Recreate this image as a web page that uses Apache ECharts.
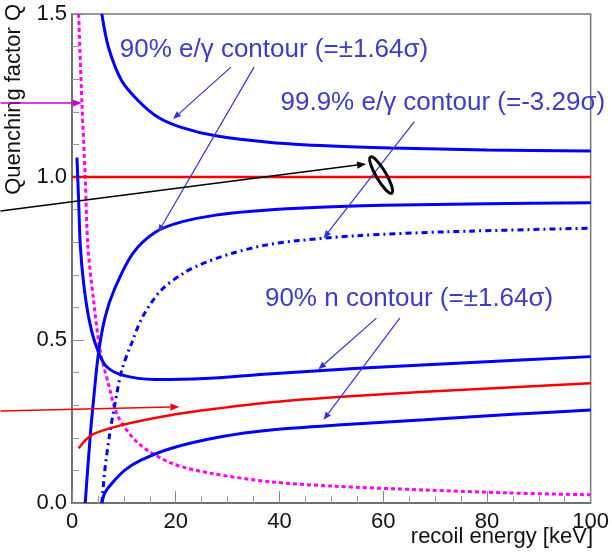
<!DOCTYPE html>
<html>
<head>
<meta charset="UTF-8">
<script src="https://cdn.jsdelivr.net/npm/echarts@6/dist/echarts.min.js"></script>
<style>
  html, body { margin: 0; padding: 0; background: #fff; }
  #main { width: 612px; height: 557px; }
</style>
</head>
<body>
<div id="main"></div>
<script>
// curves: [recoil energy (keV), Q]
var magentaDots = [[1.28, 1.5], [1.92, 1.224], [2.55, 1.0], [3.07, 0.784], [4.15, 0.623], [5.4, 0.469],
  [7.0, 0.367], [8.9, 0.265], [12.8, 0.183], [19.2, 0.122], [26.8, 0.091], [38.3, 0.065],
  [50, 0.052], [68, 0.04], [84, 0.031], [100, 0.025]];
var egUpper = [[5.75, 1.5], [7.03, 1.398], [9.58, 1.295], [12.78, 1.234], [16.6, 1.183], [21.07, 1.152],
  [27.45, 1.127], [38.3, 1.106], [50, 1.095], [61.5, 1.089], [80, 1.083], [100, 1.08]];
var egLower = [[2.55, 0], [3.5, 0.203], [4.15, 0.316], [5.1, 0.459], [6.4, 0.571], [8.24, 0.658],
  [11.74, 0.766], [16.2, 0.832], [21.3, 0.863], [27.7, 0.883], [34.1, 0.894], [43.7, 0.904],
  [60, 0.913], [80, 0.918], [100, 0.921]];
var eg999 = [[5.75, 0], [6.4, 0.111], [7.3, 0.214], [8.3, 0.306], [9.6, 0.408], [11.5, 0.49],
  [13.6, 0.571], [17.2, 0.653], [21.5, 0.705], [24.5, 0.73], [30.9, 0.766], [37.3, 0.791],
  [43.7, 0.805], [55, 0.82], [72.4, 0.832], [100, 0.843]];
var nUpper = [[0.96, 1.06], [1.28, 0.927], [1.6, 0.79], [2.24, 0.674], [3.2, 0.571], [4.47, 0.49],
  [6.4, 0.423], [9.58, 0.393], [16, 0.379], [25.5, 0.382], [37, 0.395], [55.2, 0.413],
  [78, 0.432], [100, 0.449]];
var nLower = [[5.75, 0], [6.3, 0.03], [7.66, 0.06], [10.2, 0.101], [13.4, 0.132], [19.2, 0.168],
  [28.7, 0.203], [38.3, 0.224], [52, 0.24], [68, 0.255], [85, 0.272], [100, 0.285]];
var nMean = [[1.28, 0.168], [3.83, 0.209], [9.6, 0.239], [19.2, 0.27], [28.7, 0.291], [38.3, 0.309],
  [52, 0.326], [68, 0.341], [85, 0.355], [100, 0.367]];
var egMean = [[0, 1], [100, 1]];

// annotation anchors, also in data units (x<0 is left of the frame)
var labels = [
  { text: '90% e/\u03b3 contour (=\u00b11.64\u03c3)', at: [9.2, 1.39] },
  { text: '99.9% e/\u03b3 contour (=-3.29\u03c3)', at: [40.2, 1.227] },
  { text: '90% n contour (=\u00b11.64\u03c3)', at: [37.2, 0.626] }
];
var blueArrows = [
  [[30.65, 1.337], [19.48, 1.178]],
  [[35.1, 1.337], [16.6, 0.83]],
  [[66.0, 1.17], [48.5, 0.812]],
  [[58.7, 0.567], [47.5, 0.41]],
  [[63.2, 0.567], [48.5, 0.255]]
];
var magentaArrow = [[-13.8, 1.227], [1.9, 1.227]];
var redArrow = [[-13.8, 0.282], [20.7, 0.295]];
var blackArrow = [[-13.8, 0.896], [56.7, 1.04]];
var ellipseAt = [59.6, 1.006];

var font = '"Liberation Sans", Arial, sans-serif';
var txtBlue = '#3c3cc8';

function curve(data, color, width, type) {
  return {
    type: 'line', data: data, showSymbol: false, smooth: 0.3,
    lineStyle: { color: color, width: width, type: type || 'solid' }, silent: true
  };
}

var chart = echarts.init(document.getElementById('main'));

var option = {
  animation: false,
  grid: { left: 72, top: 14, right: 18, bottom: 54, show: true, borderColor: '#777', borderWidth: 1.5 },
  xAxis: {
    type: 'value', min: 0, max: 100, interval: 20,
    axisLine: { onZero: false, lineStyle: { color: '#666', width: 1.5 } },
    axisTick: { inside: true, length: 12, lineStyle: { color: '#888' } },
    minorTick: { show: true, splitNumber: 4, length: 7, lineStyle: { color: '#999' } },
    splitLine: { show: false },
    axisLabel: { fontSize: 22, color: '#111', margin: 8, fontFamily: font }
  },
  yAxis: {
    type: 'value', min: 0, max: 1.5, interval: 0.5,
    axisLine: { onZero: false, lineStyle: { color: '#666', width: 1.5 } },
    axisTick: { inside: true, length: 12, lineStyle: { color: '#888' } },
    minorTick: { show: true, splitNumber: 5, length: 7, lineStyle: { color: '#999' } },
    splitLine: { show: false },
    axisLabel: { fontSize: 22, color: '#111', margin: 5, fontFamily: font,
      formatter: function (v) { return v.toFixed(1); } }
  },
  series: [
    curve(magentaDots, '#ff00ff', 3, [4, 3]),
    curve(egMean, '#ff0000', 2.5),
    curve(egUpper, '#0000ff', 3),
    curve(egLower, '#0000ff', 3),
    curve(eg999, '#0000ff', 3, [6, 4, 2, 4]),
    curve(nUpper, '#0000ff', 3),
    curve(nLower, '#0000ff', 3),
    curve(nMean, '#ff0000', 2.5)
  ]
};
chart.setOption(option);

function px(p) { return chart.convertToPixel({ gridIndex: 0 }, p); }

function arrow(pair, color, width, head) {
  var a = px(pair[0]), b = px(pair[1]);
  var ang = Math.atan2(b[1] - a[1], b[0] - a[0]);
  var bx = b[0] - head * Math.cos(ang), by = b[1] - head * Math.sin(ang);
  var w = head * 0.4;
  return [{
    type: 'line', silent: true, z: 50,
    shape: { x1: a[0], y1: a[1], x2: bx, y2: by },
    style: { stroke: color, lineWidth: width }
  }, {
    type: 'polygon', silent: true, z: 50,
    shape: { points: [[b[0], b[1]], [bx - w * Math.sin(ang), by + w * Math.cos(ang)], [bx + w * Math.sin(ang), by - w * Math.cos(ang)]] },
    style: { fill: color }
  }];
}

var g = [];
blueArrows.forEach(function (p) { g = g.concat(arrow(p, '#3333cc', 1.2, 8)); });
g = g.concat(arrow(magentaArrow, '#cc00cc', 1.5, 9));
g = g.concat(arrow(redArrow, '#ff0000', 1.5, 9));
g = g.concat(arrow(blackArrow, '#000000', 1.5, 9));

var ec = px(ellipseAt);
g.push({
  type: 'ellipse', x: ec[0], y: ec[1], rotation: -1.04, silent: true, z: 51,
  shape: { cx: 0, cy: 0, rx: 21, ry: 5 },
  style: { fill: null, stroke: '#000', lineWidth: 3 }
});

labels.forEach(function (l) {
  var p = px(l.at);
  g.push({
    type: 'text', x: p[0], y: p[1], z: 52, silent: true,
    style: { text: l.text, fill: txtBlue, font: '26px ' + font, align: 'left', verticalAlign: 'middle' }
  });
});

g.push({
  type: 'text', x: 593, y: 537, silent: true,
  style: { text: 'recoil energy [keV]', fill: '#111', font: '22px ' + font, align: 'right', verticalAlign: 'middle' }
});
g.push({
  type: 'text', x: 14, y: 4, rotation: Math.PI / 2, silent: true,
  style: { text: 'Quenching factor Q', fill: '#111', font: '22px ' + font, align: 'right', verticalAlign: 'middle' }
});

chart.setOption({ graphic: g });
</script>
</body>
</html>
